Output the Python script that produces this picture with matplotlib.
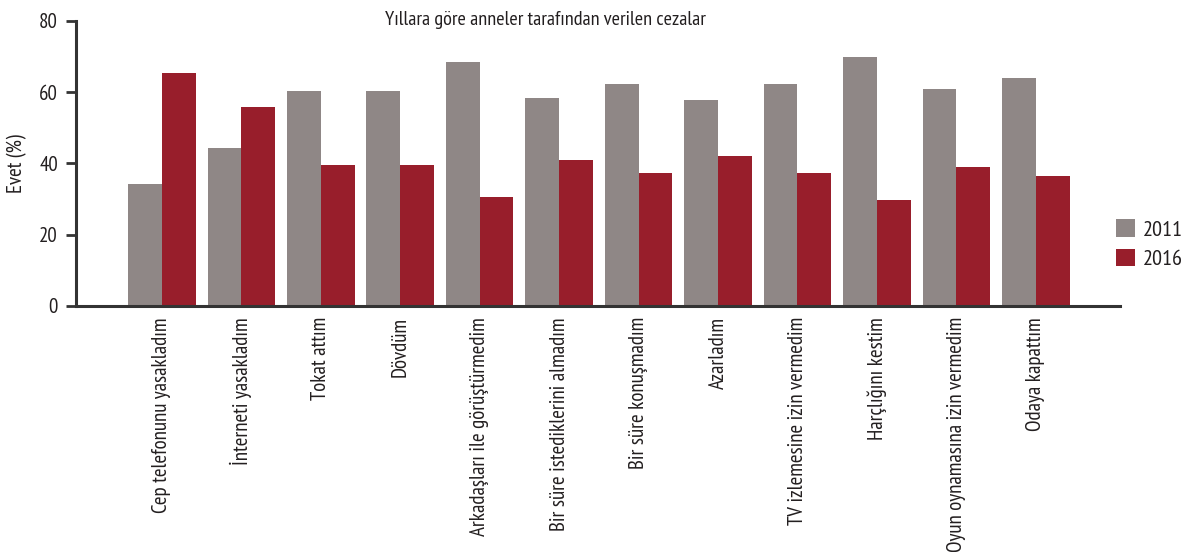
import matplotlib
matplotlib.use('agg')
import matplotlib.pyplot as plt
import numpy as np

categories = [
    'Cep telefonunu yasakladım', 'İnterneti yasakladım', 'Tokat attım', 'Dövdüm',
    'Arkadaşları ile görüştürmedim', 'Bir süre istediklerini almadım',
    'Bir süre konuşmadım', 'Azarladım', 'TV izlemesine izin vermedim',
    'Harçlığını kestim', 'Oyun oynamasına izin vermedim', 'Odaya kapattım',
]
vals_2011 = [34.2, 44.3, 60.3, 60.3, 68.4, 58.3, 62.2, 57.8, 62.2, 69.8, 60.8, 63.9]
vals_2016 = [65.3, 55.8, 39.5, 39.5, 30.6, 40.9, 37.3, 42.1, 37.3, 29.7, 39.0, 36.4]
series_names = ['2011', '2016']
yticks = [0, 20, 40, 60, 80]

plt.rcParams['font.family'] = ['PT Sans Narrow', 'DejaVu Sans']
GRAY = '#8f8786'
RED = '#981e2b'
DARK = '#333333'
TXT = '#231f20'

fig = plt.figure(figsize=(11.81, 5.52), dpi=100)
ax = fig.add_axes([0.0644, 0.4457, 0.8840, 0.5168])

x = np.arange(len(categories))
w = 0.425
ax.bar(x - w / 2, vals_2011, w, color=GRAY, label=series_names[0])
ax.bar(x + w / 2, vals_2016, w, color=RED, label=series_names[1])

ax.set_xlim(-1.08, 12.06)
ax.set_ylim(0, 80)
ax.set_yticks(yticks)
ax.set_yticklabels([str(v) for v in yticks], fontsize=15, color=TXT)
ax.set_xticks(x)
ax.set_xticklabels(categories, rotation=90, fontsize=15.1, color=TXT,
                   va='top', ha='center')
ax.tick_params(axis='x', length=0, pad=8)
ax.tick_params(axis='y', length=7, width=2, color=DARK, pad=6)
for s in ['top', 'right']:
    ax.spines[s].set_visible(False)
for s in ['left', 'bottom']:
    ax.spines[s].set_color(DARK)
    ax.spines[s].set_linewidth(2.2)

ax.set_ylabel('Evet (%)', fontsize=15, color=TXT, labelpad=9)
fig.text(0.4615, 0.963, 'Yıllara göre anneler tarafından verilen cezalar',
         ha='center', va='center', fontsize=14.6, color=TXT)

leg = ax.legend(loc='center left', bbox_to_anchor=(0.9449, 0.5578),
                bbox_transform=fig.transFigure, frameon=False, fontsize=16,
                handlelength=0.85, handleheight=0.85, handletextpad=0.35,
                labelspacing=0.4, borderaxespad=0, borderpad=0)
for t in leg.get_texts():
    t.set_color(TXT)

fig.savefig('out.png', dpi=100)
